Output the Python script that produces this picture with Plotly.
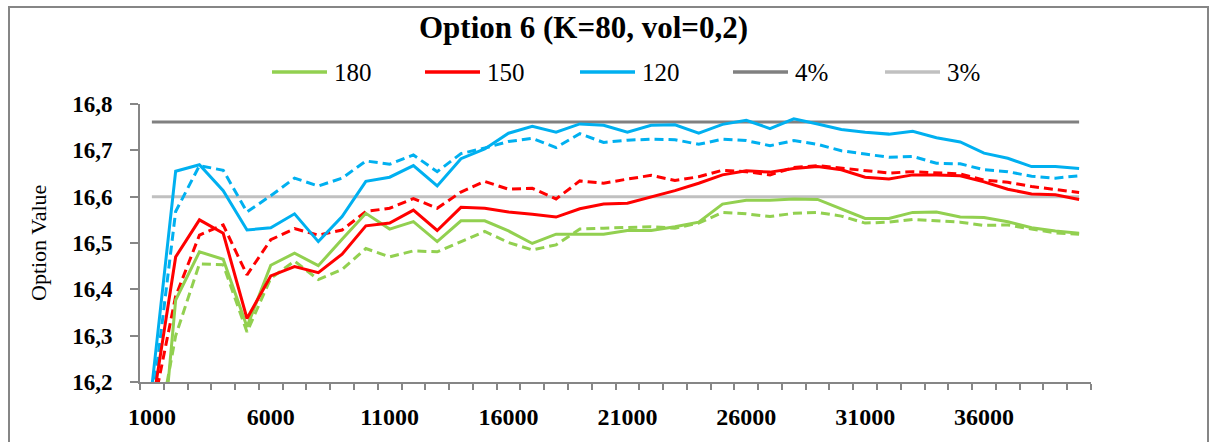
import plotly.graph_objects as go

# Number of simulation paths on the horizontal axis
paths = list(range(1000, 41000, 1000))
x_tick_vals = [1000, 6000, 11000, 16000, 21000, 26000, 31000, 36000]
x_tick_labels = ["1000", "6000", "11000", "16000", "21000", "26000", "31000", "36000"]

# Option values, solid series
value_180 = [15.81, 16.377, 16.481, 16.465, 16.319, 16.452, 16.478, 16.451, 16.508, 16.564,
             16.530, 16.546, 16.503, 16.548, 16.548, 16.526, 16.499, 16.519, 16.519, 16.519,
             16.527, 16.527, 16.535, 16.545, 16.584, 16.592, 16.592, 16.595, 16.594, 16.574,
             16.553, 16.553, 16.566, 16.567, 16.556, 16.555, 16.546, 16.533, 16.526, 16.521]
value_150 = [16.14, 16.470, 16.550, 16.521, 16.337, 16.429, 16.449, 16.436, 16.476, 16.537,
             16.543, 16.571, 16.527, 16.577, 16.575, 16.567, 16.562, 16.556, 16.574, 16.584,
             16.586, 16.600, 16.613, 16.629, 16.647, 16.656, 16.653, 16.661, 16.665, 16.658,
             16.642, 16.638, 16.647, 16.647, 16.645, 16.632, 16.616, 16.606, 16.604, 16.594]
value_120 = [16.19, 16.655, 16.669, 16.613, 16.528, 16.533, 16.563, 16.503, 16.557, 16.633,
             16.642, 16.667, 16.623, 16.682, 16.703, 16.737, 16.752, 16.739, 16.757, 16.754,
             16.739, 16.754, 16.755, 16.737, 16.756, 16.765, 16.747, 16.768, 16.757, 16.745,
             16.739, 16.735, 16.741, 16.727, 16.718, 16.694, 16.683, 16.665, 16.665, 16.661]

# Option values, dashed companion series
value_180_b = [16.02, 16.300, 16.455, 16.453, 16.308, 16.424, 16.461, 16.421, 16.443, 16.488,
               16.470, 16.483, 16.481, 16.503, 16.525, 16.501, 16.485, 16.496, 16.530, 16.532,
               16.534, 16.535, 16.532, 16.543, 16.566, 16.563, 16.557, 16.564, 16.566, 16.558,
               16.543, 16.545, 16.551, 16.548, 16.545, 16.538, 16.539, 16.530, 16.522, 16.519]
value_150_b = [16.13, 16.385, 16.517, 16.539, 16.431, 16.507, 16.531, 16.517, 16.528, 16.568,
               16.575, 16.596, 16.575, 16.610, 16.633, 16.616, 16.618, 16.595, 16.634, 16.629,
               16.638, 16.646, 16.635, 16.643, 16.657, 16.654, 16.647, 16.663, 16.667, 16.662,
               16.656, 16.651, 16.654, 16.652, 16.649, 16.636, 16.631, 16.622, 16.615, 16.609]
value_120_b = [16.145, 16.568, 16.667, 16.657, 16.567, 16.602, 16.640, 16.623, 16.640, 16.677,
               16.670, 16.690, 16.654, 16.693, 16.705, 16.719, 16.726, 16.706, 16.736, 16.717,
               16.722, 16.724, 16.723, 16.713, 16.724, 16.721, 16.710, 16.721, 16.713, 16.699,
               16.692, 16.685, 16.687, 16.672, 16.671, 16.658, 16.654, 16.644, 16.640, 16.645]

# Reference levels
level_4pct = 16.761
level_3pct = 16.600

GREEN, RED, BLUE = "#92D050", "#FF0000", "#00B0F0"
DARK_GREY, LIGHT_GREY = "#808080", "#C0C0C0"
AXIS_GREY = "#868686"
FONT = "Liberation Serif"

W, H = 1216, 442
L, R, T, B = 140, 125, 104, 60
PW, PH = W - L - R, H - T - B


def px_x(x):
    return (x - L) / PW


def px_y(y):
    return (H - B - y) / PH


fig = go.Figure()

# flat reference lines
for level, color in [(level_4pct, DARK_GREY), (level_3pct, LIGHT_GREY)]:
    fig.add_trace(go.Scatter(x=paths, y=[level] * len(paths), mode="lines",
                             line=dict(color=color, width=3), showlegend=False,
                             hoverinfo="skip"))

# dashed series
for vals, color in [(value_180_b, GREEN), (value_150_b, RED), (value_120_b, BLUE)]:
    fig.add_trace(go.Scatter(x=paths, y=vals, mode="lines",
                             line=dict(color=color, width=3, dash="9px,5px"),
                             showlegend=False))

# solid series
for vals, color in [(value_180, GREEN), (value_150, RED), (value_120, BLUE)]:
    fig.add_trace(go.Scatter(x=paths, y=vals, mode="lines",
                             line=dict(color=color, width=3), showlegend=False))

shapes = [
    # chart frame
    dict(type="rect", xref="paper", yref="paper",
         x0=px_x(9), x1=px_x(1208), y0=px_y(460), y1=px_y(7),
         line=dict(color=AXIS_GREY, width=2), fillcolor="rgba(0,0,0,0)", layer="below"),
]
annotations = [
    dict(text="<b>Option 6 (K=80, vol=0,2)</b>", xref="paper", yref="paper",
         x=px_x(583), y=px_y(28), xanchor="center", yanchor="middle", showarrow=False,
         font=dict(family=FONT, size=31, color="black")),
    dict(text="Option Value", xref="paper", yref="paper", x=px_x(38), y=0.5,
         xanchor="center", yanchor="middle", textangle=-90, showarrow=False,
         font=dict(family=FONT, size=22, color="black")),
]

# legend row
legend_items = [("180", GREEN, 272), ("150", RED, 425), ("120", BLUE, 580),
                ("4%", DARK_GREY, 733), ("3%", LIGHT_GREY, 885)]
for name, color, x0 in legend_items:
    shapes.append(dict(type="line", xref="paper", yref="paper",
                       x0=px_x(x0), x1=px_x(x0 + 55), y0=px_y(72), y1=px_y(72),
                       line=dict(color=color, width=3.5)))
    annotations.append(dict(text=name, xref="paper", yref="paper",
                            x=px_x(x0 + 60), y=px_y(72), xanchor="left", yanchor="middle",
                            showarrow=False, font=dict(family=FONT, size=25, color="black")))

fig.update_layout(
    width=W, height=H,
    margin=dict(l=L, r=R, t=T, b=B, pad=0),
    paper_bgcolor="white", plot_bgcolor="white",
    separators=",.",
    showlegend=False,
    shapes=shapes,
    annotations=annotations,
    xaxis=dict(
        range=[500, 40500], tickvals=x_tick_vals, ticktext=x_tick_labels,
        ticks="", showline=True, linecolor=AXIS_GREY, linewidth=2,
        showgrid=False, zeroline=False, ticklabelstandoff=12,
        tickfont=dict(family=FONT, size=24, color="black", weight="bold"),
        minor=dict(ticks="outside", tick0=500, dtick=1000, ticklen=6,
                   tickcolor=AXIS_GREY, tickwidth=1.5, showgrid=False),
    ),
    yaxis=dict(
        range=[16.2, 16.8], tick0=16.2, dtick=0.1, tickformat=".1f",
        ticks="outside", ticklen=8, tickcolor=AXIS_GREY, tickwidth=1.5,
        showline=True, linecolor=AXIS_GREY, linewidth=2,
        showgrid=False, zeroline=False, ticklabelstandoff=13,
        tickfont=dict(family=FONT, size=23, color="black", weight="bold"),
    ),
)

fig.write_html("out.html")
